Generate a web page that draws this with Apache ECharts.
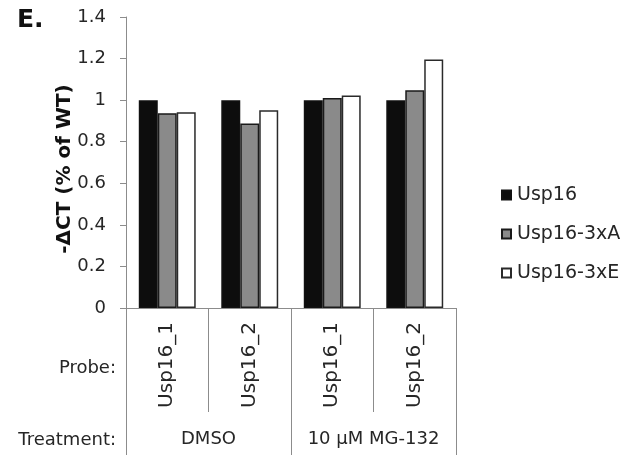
<!DOCTYPE html>
<html>
<head>
<meta charset="utf-8">
<script src="https://cdn.jsdelivr.net/npm/echarts@6/dist/echarts.min.js"></script>
<style>html,body{margin:0;padding:0;background:#fff}#c{width:626px;height:456px}</style>
</head>
<body>
<div id="c"></div>
<script>
const probes = ['Usp16_1', 'Usp16_2', 'Usp16_1', 'Usp16_2'];
const treatments = ['DMSO', '10 µM MG-132'];
const seriesNames = ['Usp16', 'Usp16-3xA', 'Usp16-3xE'];
const usp16 = [1.0, 1.0, 1.0, 1.0];
const usp16_3xA = [0.937, 0.888, 1.010, 1.047];
const usp16_3xE = [0.942, 0.951, 1.022, 1.195];
const yTickLabels = ['0', '0.2', '0.4', '0.6', '0.8', '1', '1.2', '1.4'];

const FONT = 'DejaVu Sans';
const fills = ['#0d0d0d', '#8a8a8a', '#ffffff'];
const borders = ['#111111', '#1a1a1a', '#2a2a2a'];
const values = [usp16, usp16_3xA, usp16_3xE];

const chart = echarts.init(document.getElementById('c'), null, {renderer: 'canvas'});
chart.setOption({
  animation: false,
  backgroundColor: '#ffffff',
  grid: {left: 126, right: 170, top: 17, bottom: 148, containLabel: false},
  legend: {
    orient: 'vertical', left: 496, top: 180, itemWidth: 9, itemHeight: 9, itemGap: 19,
    icon: 'rect',
    textStyle: {fontFamily: FONT, fontSize: 19, color: '#262626', lineHeight: 20, padding: [0, 0, 0, 1]},
    data: seriesNames
  },
  xAxis: [{
    type: 'category', data: probes, position: 'bottom',
    axisLine: {show: true, lineStyle: {color: '#8c8c8c', width: 1}},
    axisTick: {show: true, interval: 0, length: 104, lineStyle: {color: '#8c8c8c'}},
    axisLabel: {rotate: 90, interval: 0, margin: 14, fontFamily: FONT, fontSize: 20, color: '#262626'},
    splitLine: {show: false}
  }, {
    type: 'category', data: treatments, position: 'bottom',
    axisLine: {show: false},
    axisTick: {show: true, interval: 0, length: 147, lineStyle: {color: '#8c8c8c'}},
    axisLabel: {interval: 0, margin: 122, fontFamily: FONT, fontSize: 18, color: '#262626'},
    splitLine: {show: false}
  }],
  yAxis: {
    type: 'value', min: 0, max: 1.4, interval: 0.2,
    axisLine: {show: true, lineStyle: {color: '#8c8c8c'}},
    axisTick: {show: true, length: 6, lineStyle: {color: '#8c8c8c'}},
    axisLabel: {margin: 20, fontFamily: FONT, fontSize: 18, color: '#262626',
      formatter: (v, i) => yTickLabels[i]},
    splitLine: {show: false}
  },
  series: seriesNames.map((n, k) => ({
    name: n, type: 'bar', xAxisIndex: 0, data: values[k],
    barGap: '0%', barCategoryGap: '31%',
    itemStyle: {color: fills[k], borderColor: borders[k], borderWidth: 1.5}
  })),
  graphic: [
    {type: 'text', left: 17, top: 8, style: {text: 'E.', fontFamily: FONT, fontWeight: 'bold', fontSize: 25, fill: '#111'}},
    {type: 'text', x: 65, y: 169, rotation: Math.PI / 2,
      style: {text: '-ΔCT (% of WT)', fontFamily: FONT, fontWeight: 'bold', fontSize: 20, fill: '#111', align: 'center', verticalAlign: 'middle'}},
    {type: 'text', x: 116, y: 368, style: {text: 'Probe:', fontFamily: FONT, fontSize: 18, fill: '#262626', align: 'right', verticalAlign: 'middle'}},
    {type: 'text', x: 116, y: 440, style: {text: 'Treatment:', fontFamily: FONT, fontSize: 18, fill: '#262626', align: 'right', verticalAlign: 'middle'}}
  ]
});
</script>
</body>
</html>
